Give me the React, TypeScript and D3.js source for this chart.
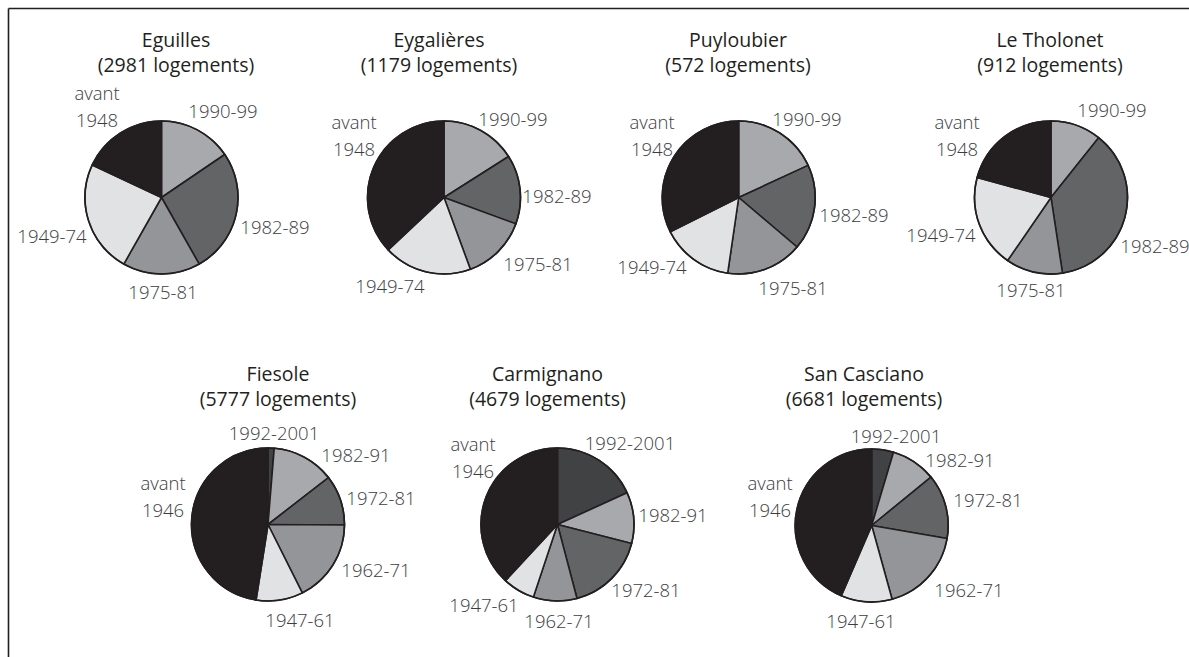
import React from "react";
import * as d3 from "d3";

// ---- Data ----
const frCategories = ["1990-99", "1982-89", "1975-81", "1949-74", "avant 1948"];
const itCategories = ["1992-2001", "1982-91", "1972-81", "1962-71", "1947-61", "avant 1946"];

const communes = ["Eguilles", "Eygalières", "Puyloubier", "Le Tholonet", "Fiesole", "Carmignano", "San Casciano"];
const totals = [2981, 1179, 572, 912, 5777, 4679, 6681];

const eguillesValues = [15.5, 26.3, 16.4, 23.8, 18.0];
const eygalieresValues = [16.0, 14.6, 13.8, 18.6, 37.0];
const puyloubierValues = [18.1, 18.1, 16.1, 15.3, 32.4];
const tholonetValues = [10.7, 36.9, 12.0, 19.6, 20.8];
const fiesoleValues = [1.3, 13.2, 10.6, 17.5, 9.9, 47.5];
const carmignanoValues = [18.2, 10.8, 16.9, 9.2, 6.8, 38.1];
const sanCascianoValues = [4.6, 9.5, 13.6, 18.0, 10.8, 43.5];

// ---- Styles ----
const frColors = ["#a7a9ac", "#636466", "#939598", "#e1e2e4", "#231f20"];
const itColors = ["#414244", "#a7a9ac", "#636466", "#939598", "#e1e2e4", "#231f20"];

// ---- Layout (centre, title centre, label positions [x, y baseline]) ----
type Layout = { cx: number; cy: number; tx: number; ty: number; labels: [number, number][] };
const layouts: Layout[] = [
  { cx: 161.5, cy: 197.5, tx: 176, ty: 46.5, labels: [[223, 118], [275, 234], [163, 299], [52, 243], [97, 100]] },
  { cx: 444, cy: 197.5, tx: 439, ty: 46.5, labels: [[513, 126], [557, 203], [538, 271], [390, 293], [354, 129]] },
  { cx: 738.7, cy: 197.5, tx: 738, ty: 46.5, labels: [[807, 126], [854, 222], [793, 295], [652, 274], [652, 129]] },
  { cx: 1051, cy: 197.5, tx: 1050, ty: 46.5, labels: [[1112, 117], [1155, 253], [1031, 297], [941, 242], [957, 129]] },
  { cx: 268, cy: 524.5, tx: 278, ty: 380.5, labels: [[274, 440], [356, 462], [381, 505], [376, 577], [300, 627], [163, 490]] },
  { cx: 557.5, cy: 524.5, tx: 547.5, ty: 380.5, labels: [[630, 450], [673, 522], [646, 597], [559, 628], [484, 612], [473, 451]] },
  { cx: 871.7, cy: 525.5, tx: 864, ty: 380.5, labels: [[896, 443], [960, 467], [988, 507], [969, 597], [861, 628], [770, 490]] },
];

const valueSets = [eguillesValues, eygalieresValues, puyloubierValues, tholonetValues, fiesoleValues, carmignanoValues, sanCascianoValues];

const R = 76.5;
const FONT = "'Open Sans', 'Noto Sans', sans-serif";

function Pie({ idx }: { idx: number }) {
  const isFr = idx < 4;
  const cats = isFr ? frCategories : itCategories;
  const colors = isFr ? frColors : itColors;
  const vals = valueSets[idx];
  const lay = layouts[idx];
  const pie = d3.pie<number>().sort(null).value((d) => d)(vals);
  const arc = d3.arc<d3.PieArcDatum<number>>().innerRadius(0).outerRadius(R);
  return (
    <g>
      <text x={lay.tx} y={lay.ty} textAnchor="middle" fontFamily={FONT} fontSize={19.5} fill="#231f20">
        {communes[idx]}
      </text>
      <text x={lay.tx} y={lay.ty + 25} textAnchor="middle" fontFamily={FONT} fontSize={19.5} fill="#231f20">
        {`(${totals[idx]} logements)`}
      </text>
      <g transform={`translate(${lay.cx},${lay.cy})`}>
        {pie.map((p, i) => (
          <path key={i} d={arc(p) || ""} fill={colors[i]} stroke="#231f20" strokeWidth={1.6} strokeLinejoin="round" />
        ))}
        <circle r={R} fill="none" stroke="#231f20" strokeWidth={1.6} />
      </g>
      {cats.map((c, i) => {
        const [x, y] = lay.labels[i];
        const parts = c.startsWith("avant") ? c.split(" ") : [c];
        return (
          <text key={c} x={x} y={y} textAnchor="middle" fontFamily={FONT} fontSize={18.5} fontWeight={300} fill="#3d3d3f">
            {parts.map((t, j) => (
              <tspan key={j} x={x} dy={j === 0 ? 0 : 27}>
                {t}
              </tspan>
            ))}
          </text>
        );
      })}
    </g>
  );
}

export default function App() {
  return (
    <svg width={1189} height={657} style={{ position: "absolute", left: 0, top: 0, background: "#fff" }}>
      <line x1={8.5} y1={8.5} x2={1189} y2={8.5} stroke="#231f20" strokeWidth={1.6} />
      <line x1={8.5} y1={8.5} x2={8.5} y2={657} stroke="#231f20" strokeWidth={1.6} />
      {communes.map((_, i) => (
        <Pie key={i} idx={i} />
      ))}
    </svg>
  );
}
